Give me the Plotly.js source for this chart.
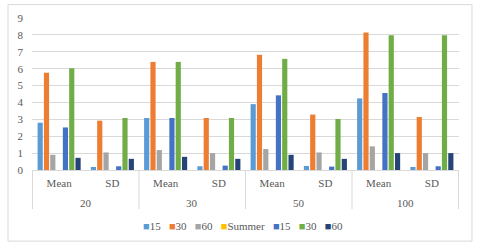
<!DOCTYPE html>
<html><head><meta charset="utf-8">
<script src="https://cdn.plot.ly/plotly-3.0.1.min.js"></script>
<style>html,body{margin:0;padding:0;background:#fff}</style>
</head><body><div id="chart" style="width:480px;height:249px"></div>
<script>
const sizes = ["20","20","30","30","50","50","100","100"];
const stats = ["Mean","SD","Mean","SD","Mean","SD","Mean","SD"];
const seriesNames = ["15","30","60","Summer","15","30","60"];
const seriesColors = ["#5B9BD5","#ED7D31","#A5A5A5","#FFC000","#4472C4","#70AD47","#264478"];
const s15a   = [2.80,0.18,3.08,0.22,3.90,0.24,4.24,0.18];
const s30a   = [5.76,2.92,6.40,3.08,6.82,3.28,8.14,3.14];
const s60a   = [0.90,1.04,1.18,1.00,1.24,1.04,1.40,1.00];
const summer = [0,0,0,0,0,0,0,0];
const s15b   = [2.52,0.22,3.08,0.26,4.42,0.20,4.56,0.22];
const s30b   = [6.02,3.08,6.40,3.08,6.58,3.02,7.98,7.98];
const s60b   = [0.72,0.66,0.78,0.66,0.90,0.66,1.00,1.00];
const seriesValues = [s15a,s30a,s60a,summer,s15b,s30b,s60b];

const cats = sizes.map((s,i)=>s+' '+stats[i]);

const traces = seriesValues.map((v,i)=>({
  type:'bar', name:seriesNames[i], x:cats, y:v,
  marker:{color:seriesColors[i], line:{width:0}}
}));

const fontFam = 'Liberation Serif, Times New Roman, serif';
const gray = '#D9D9D9';
const txt = '#595959';

// outer group labels and dividers derived from the sizes array
const groups = [];
sizes.forEach((s,i)=>{
  const g = groups[groups.length-1];
  if (g && g.name===s) g.end=i; else groups.push({name:s,start:i,end:i});
});
const annotations = groups.map(g=>({
  xref:'x', yref:'paper', x:(g.start+g.end)/2, y:-0.2175, text:g.name,
  showarrow:false, xanchor:'center', yanchor:'middle',
  font:{family:fontFam, size:11, color:txt}
}));
const shapes = [];
groups.forEach((g,k)=>{
  if (k===0) shapes.push({type:'line', xref:'x', yref:'paper', x0:g.start-0.5, x1:g.start-0.5, y0:0, y1:-0.257, line:{color:gray,width:1}});
  shapes.push({type:'line', xref:'x', yref:'paper', x0:g.end+0.5, x1:g.end+0.5, y0:0, y1:-0.257, line:{color:gray,width:1}});
});
shapes.push({type:'rect', xref:'paper', yref:'paper', x0:-0.0562, x1:1.0304, y0:-0.468, y1:1.088,
             line:{color:gray, width:1}});

const legendText = seriesNames.map((n,i)=>
  '<span style="color:'+seriesColors[i]+'">■</span>'+n).join('&nbsp;&nbsp;&nbsp;');
annotations.push({xref:'paper', yref:'paper', x:0.493, y:-0.369, showarrow:false,
  text:legendText, xanchor:'center', yanchor:'middle',
  font:{family:fontFam, size:11, color:txt}});

const layout = {
  width:480, height:249,
  margin:{l:32, r:21, t:18, b:79},
  paper_bgcolor:'#fff', plot_bgcolor:'#fff',
  font:{family:fontFam, size:11, color:txt},
  showlegend:false,
  barmode:'group', bargap:0.17, bargroupgap:0.18,
  xaxis:{type:'category', tickvals:cats, ticktext:stats, showgrid:false,
         showline:true, linecolor:gray, ticks:'', ticklabelstandoff:3,
         tickfont:{family:fontFam, size:11, color:txt}},
  yaxis:{range:[0,9], dtick:1, gridcolor:gray, gridwidth:1, zeroline:false,
         showline:false, ticks:'', ticklabelstandoff:8,
         tickfont:{family:fontFam, size:11, color:txt}},
  shapes:shapes,
  annotations:annotations
};
Plotly.newPlot('chart', traces, layout, {displayModeBar:false, staticPlot:true});
</script></body></html>
